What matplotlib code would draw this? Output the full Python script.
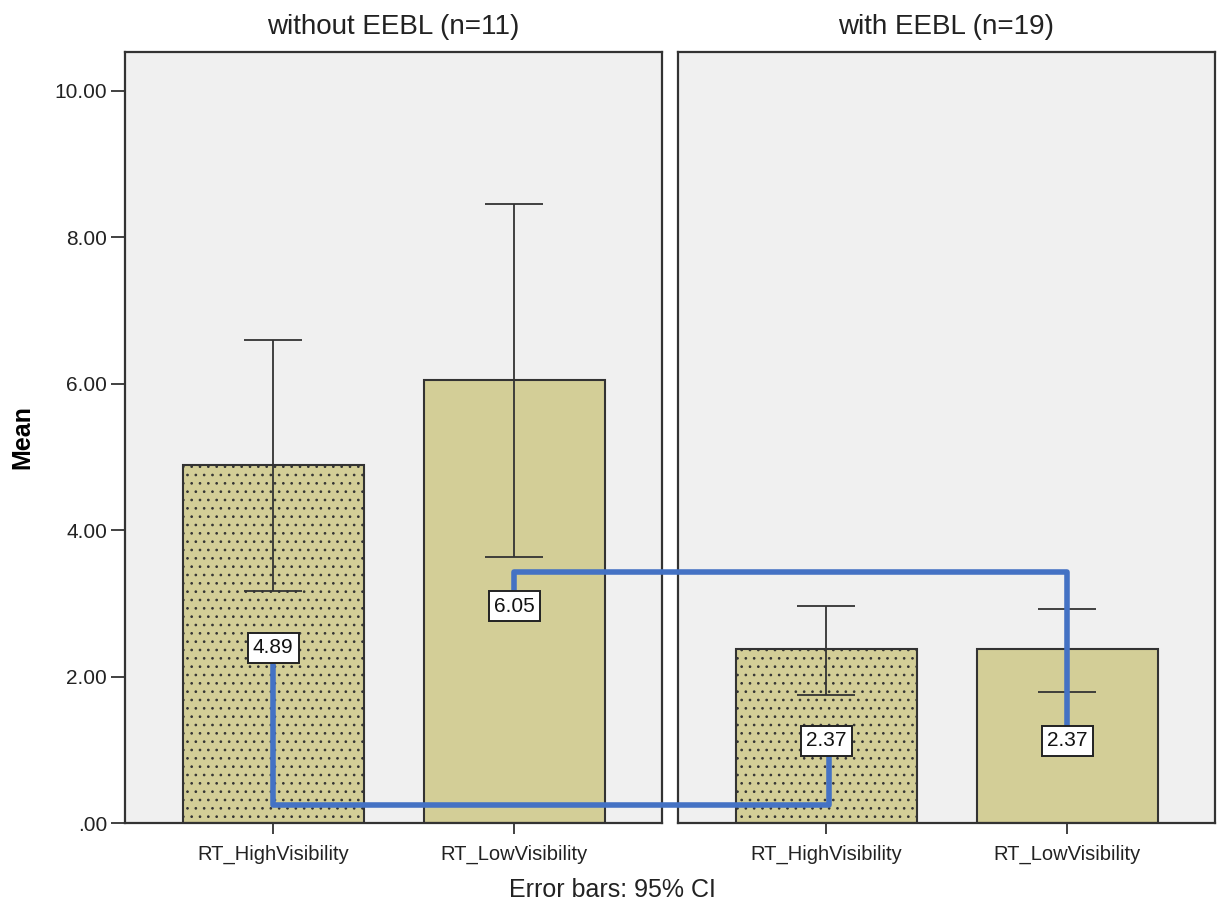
import matplotlib
matplotlib.use("Agg")
import matplotlib.pyplot as plt
from matplotlib.lines import Line2D

plt.rcParams['font.family'] = ['Liberation Sans', 'DejaVu Sans']
plt.rcParams['hatch.color'] = '#55553f'
plt.rcParams['hatch.linewidth'] = 0.7

# Mean reaction times with 95% CI, split by EEBL condition
groups = ["without EEBL (n=11)", "with EEBL (n=19)"]
conditions = ["RT_HighVisibility", "RT_LowVisibility"]
means = [[4.89, 6.05], [2.37, 2.37]]
ci_low = [[3.17, 3.63], [1.75, 1.79]]
ci_high = [[6.60, 8.46], [2.96, 2.92]]
hatches = ['..', None]

# where the value boxes sit (y in data units) and the elbow heights of the connectors
label_y = [[2.39, 2.96], [1.12, 1.12]]
link_high_y = 0.25
link_low_y = 3.43

bar_color = '#d3ce97'
panel_bg = '#f0f0f0'
edge = '#333333'
text_color = '#222222'
link_color = '#4472c4'

fig = plt.figure(figsize=(12.25, 9.10), dpi=100)
ax_w, ax_h, ax_b = 0.438, 0.8473, 0.0956
axes = [fig.add_axes([0.102, ax_b, ax_w, ax_h]),
        fig.add_axes([0.5535, ax_b, ax_w, ax_h])]

x = [0, 1]
for g, ax in enumerate(axes):
    ax.set_facecolor(panel_bg)
    m = means[g]
    yerr = [[m[i] - ci_low[g][i] for i in x], [ci_high[g][i] - m[i] for i in x]]
    for i in x:
        ax.bar(x[i], m[i], width=0.75, color=bar_color, edgecolor=edge,
               linewidth=1.5, hatch=hatches[i], zorder=2)
    ax.errorbar(x, m, yerr=yerr, fmt='none', ecolor=edge, elinewidth=1.3,
                capsize=21, capthick=1.3, zorder=3)
    ax.set_xlim(-0.615, 1.61)
    ax.set_ylim(0, 10.53)
    ax.set_xticks(x)
    ax.set_xticklabels(conditions, fontsize=14.5, color=text_color)
    ax.set_title(groups[g], fontsize=20, color=text_color, pad=13)
    for s in ax.spines.values():
        s.set_color(edge)
        s.set_linewidth(1.6)
    ax.tick_params(axis='x', length=8, width=1.3, color=edge, pad=8)
    if g == 0:
        ax.set_yticks([0, 2, 4, 6, 8, 10])
        ax.set_yticklabels(['.00', '2.00', '4.00', '6.00', '8.00', '10.00'],
                           fontsize=15, color=text_color)
        ax.tick_params(axis='y', length=10, width=1.3, color=edge, pad=3)
        ax.set_ylabel("Mean", fontsize=18, fontweight='bold', labelpad=14)
    else:
        ax.set_yticks([])

# connector lines drawn at figure level so they can cross the panel gap
to_fig = fig.transFigure.inverted()


def fig_pt(ax, px, py):
    return to_fig.transform(ax.transData.transform((px, py)))


def connector(points):
    pts = [fig_pt(a, px, py) for a, px, py in points]
    fig.add_artist(Line2D([p[0] for p in pts], [p[1] for p in pts],
                          transform=fig.transFigure, color=link_color,
                          linewidth=4, solid_joinstyle='round', zorder=5))


ax1, ax2 = axes
connector([(ax1, 0, label_y[0][0]), (ax1, 0, link_high_y),
           (ax2, 0.01, link_high_y), (ax2, 0.01, label_y[1][0])])
connector([(ax1, 1, label_y[0][1]), (ax1, 1, link_low_y),
           (ax2, 1, link_low_y), (ax2, 1, label_y[1][1])])

# value boxes on top of the connectors
for g, ax in enumerate(axes):
    for i in x:
        fig.text(x[i], label_y[g][i], f"{means[g][i]:.2f}", transform=ax.transData,
                 ha='center', va='center', fontsize=15, color='#111111', zorder=6,
                 bbox=dict(boxstyle='square,pad=0.26', facecolor='white',
                           edgecolor='#222222', linewidth=1.4))

fig.text(0.5, 0.022, "Error bars: 95% CI", ha='center', va='center',
         fontsize=18, color=text_color)

fig.savefig("out.png", dpi=100, facecolor='white')
